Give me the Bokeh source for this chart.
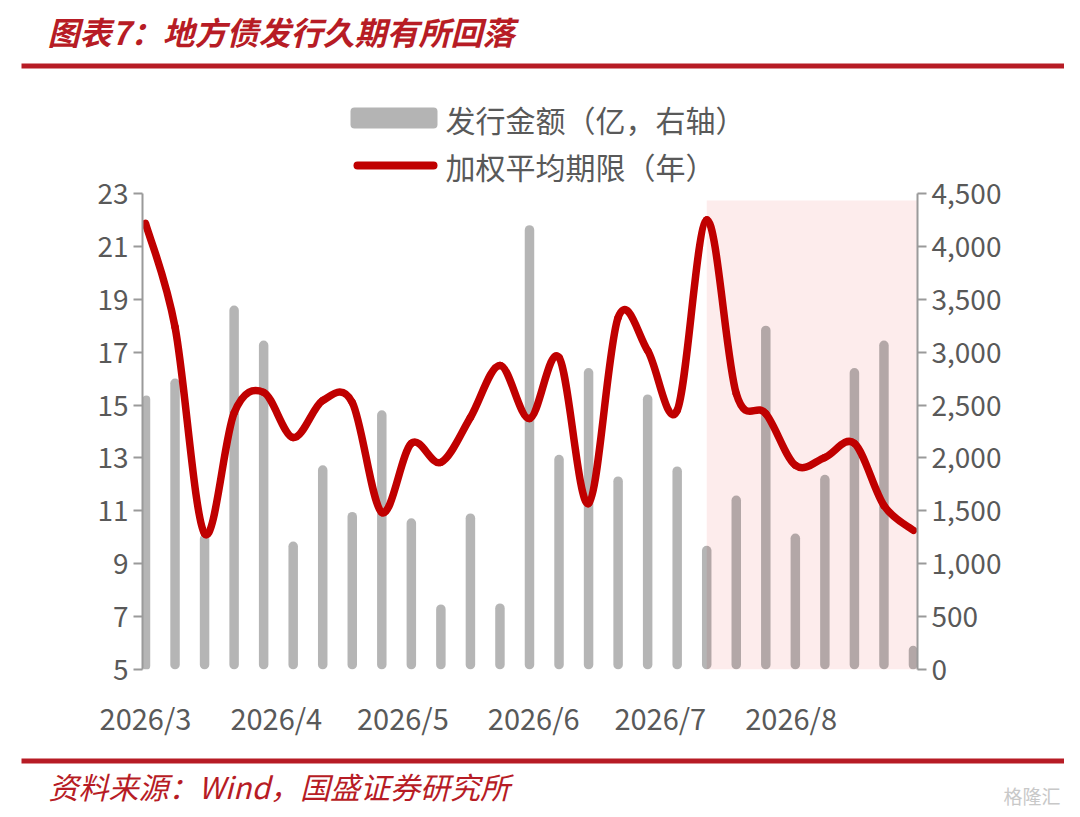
import numpy as np
import pandas as pd
from bokeh.plotting import figure
from bokeh.models import Range1d, LinearAxis, FixedTicker, NumeralTickFormatter, BoxAnnotation
from bokeh.layouts import column, row
from bokeh.core.properties import value
from bokeh.embed import file_html
from bokeh.resources import INLINE

# ---------------- data ----------------
week_dates = ["2026-03-01", "2026-03-08", "2026-03-15", "2026-03-22", "2026-03-29",
              "2026-04-05", "2026-04-12", "2026-04-19", "2026-04-26", "2026-05-03",
              "2026-05-10", "2026-05-17", "2026-05-24", "2026-05-31", "2026-06-07",
              "2026-06-14", "2026-06-21", "2026-06-28", "2026-07-05", "2026-07-12",
              "2026-07-19", "2026-07-26", "2026-08-02", "2026-08-09", "2026-08-16",
              "2026-08-23", "2026-08-30"]
issue_amount = [2590, 2750, 1280, 3440, 3110, 1210, 1930, 1490, 2450, 1430,
                615, 1475, 625, 4200, 2030, 2850, 1825, 2600, 1920, 1170,
                1645, 3250, 1285, 1840, 2850, 3110, 225]
avg_tenor = [21.87, 17.95, 10.14, 14.70, 15.48, 13.77, 15.17, 15.10, 10.94, 13.55,
             12.83, 14.53, 16.50, 14.49, 16.80, 11.28, 18.31, 17.06, 14.80, 22.00,
             15.43, 14.68, 12.72, 13.02, 13.55, 11.20, 10.26]
month_starts = ["2026-03-01", "2026-04-01", "2026-05-01", "2026-06-01", "2026-07-01", "2026-08-01"]
month_labels = ["2026/3", "2026/4", "2026/5", "2026/6", "2026/7", "2026/8"]
left_ticks = [5, 7, 9, 11, 13, 15, 17, 19, 21, 23]
right_ticks = [0, 500, 1000, 1500, 2000, 2500, 3000, 3500, 4000, 4500]
shade_start = "2026-07-12"

title_text = "图表7：地方债发行久期有所回落"
legend_bar = "发行金额（亿，右轴）"
legend_line = "加权平均期限（年）"
source_text = "资料来源：Wind，国盛证券研究所"

FONT = "Noto Sans CJK SC"
RED = "#c00000"
RULE = "#b71c25"
TICK_COL = "#595959"
AXIS_COL = "#9a9a9a"

origin = pd.Timestamp(week_dates[0])
xd = np.array([(pd.Timestamp(d) - origin).days for d in week_dates], dtype=float)
mx = [float((pd.Timestamp(d) - origin).days) for d in month_starts]
shade_x = float((pd.Timestamp(shade_start) - origin).days)

W = 1064

# page-pixel layout of the chart frame
HEADER_H = 88
FRAME_L, FRAME_R = 142, 917
FRAME_T, Y_TOP_TICK, FRAME_B = 95, 193, 669
MAIN_BOTTOM = 745
FOOTER_H = 67

left_lo, left_hi = left_ticks[0], left_ticks[-1]
right_lo, right_hi = right_ticks[0], right_ticks[-1]
stretch = (FRAME_B - FRAME_T) / (FRAME_B - Y_TOP_TICK)


def plain_fig(h):
    f = figure(width=W, height=h, x_range=Range1d(0, W), y_range=Range1d(h, 0),
               output_backend="svg", toolbar_location=None, min_border=0,
               min_border_left=0, min_border_right=0, min_border_top=0, min_border_bottom=0,
               x_axis_location=None, y_axis_location=None, outline_line_color=None)
    f.grid.visible = False
    return f


# ---------------- header: title and rule ----------------
header = plain_fig(HEADER_H)
header.text(x=[47], y=[30], text=[title_text], text_font=value(FONT), text_font_size="32px",
            text_font_style="bold italic", text_color=RULE, text_baseline="middle")
header.segment(x0=[21], y0=[65.5], x1=[1064], y1=[65.5], line_color=RULE, line_width=5)

# ---------------- main chart ----------------
mh = MAIN_BOTTOM - HEADER_H
p = figure(width=W, height=mh,
           x_range=Range1d(-0.71, 182.95),
           y_range=Range1d(left_lo, left_lo + (left_hi - left_lo) * stretch),
           output_backend="svg", toolbar_location=None,
           min_border_left=FRAME_L, min_border_right=W - FRAME_R,
           min_border_top=FRAME_T - HEADER_H, min_border_bottom=MAIN_BOTTOM - FRAME_B,
           outline_line_color=None)
p.grid.visible = False
p.extra_y_ranges = {"amt": Range1d(right_lo, right_lo + (right_hi - right_lo) * stretch),
                    "pyy": Range1d(FRAME_B, FRAME_T)}
p.extra_x_ranges = {"pxx": Range1d(FRAME_L, FRAME_R)}

p.add_layout(BoxAnnotation(left=shade_x, top=22.74, fill_color="#fdecec", fill_alpha=1.0,
                           line_color=None, level="underlay"))

p.vbar(x=xd, top=issue_amount, bottom=0, width=2.25, y_range_name="amt",
       fill_color="black", fill_alpha=0.29, line_color=None, border_radius=5)

# smoothed line through the data points (Catmull-Rom style bezier)
yv = np.array(avg_tenor, dtype=float)
px = np.concatenate([[xd[0]], xd, [xd[-1]]])
py = np.concatenate([[yv[0]], yv, [yv[-1]]])
prev_x, cur_x, nxt_x, nxt2_x = px[:-3], px[1:-2], px[2:-1], px[3:]
prev_y, cur_y, nxt_y, nxt2_y = py[:-3], py[1:-2], py[2:-1], py[3:]
p.bezier(x0=cur_x, y0=cur_y, x1=nxt_x, y1=nxt_y,
         cx0=cur_x + (nxt_x - prev_x) / 6, cy0=cur_y + (nxt_y - prev_y) / 6,
         cx1=nxt_x - (nxt2_x - cur_x) / 6, cy1=nxt_y - (nxt2_y - cur_y) / 6,
         line_color=RED, line_width=7.5, line_cap="round")

# legend (page-pixel placement)
p.quad(left=[350], right=[437], top=[107], bottom=[128], fill_color="#b4b4b4",
       line_color=None, border_radius=4, x_range_name="pxx", y_range_name="pyy")
p.segment(x0=[357], y0=[165], x1=[433], y1=[165], line_color=RED, line_width=8,
          line_cap="round", x_range_name="pxx", y_range_name="pyy")
p.text(x=[445, 445], y=[118, 165], text=[legend_bar, legend_line], text_font=value(FONT),
       text_font_size="30px", text_color=TICK_COL, text_baseline="middle",
       x_range_name="pxx", y_range_name="pyy")

# axes
yl = p.yaxis[0]
yl.ticker = FixedTicker(ticks=left_ticks)
yl.bounds = (left_lo, left_hi)
ry = LinearAxis(y_range_name="amt", ticker=FixedTicker(ticks=right_ticks),
                formatter=NumeralTickFormatter(format="0,0"), bounds=(right_lo, right_hi))
p.add_layout(ry, "right")
for ax in [yl, ry]:
    ax.axis_line_color = AXIS_COL
    ax.axis_line_width = 2
    ax.major_tick_line_color = AXIS_COL
    ax.major_tick_line_width = 2
    ax.major_tick_out = 9
    ax.major_tick_in = 0
    ax.minor_tick_line_color = None
    ax.major_label_text_font = FONT
    ax.major_label_text_font_size = "28px"
    ax.major_label_text_color = TICK_COL
    ax.major_label_standoff = 5

xa = p.xaxis[0]
xa.ticker = FixedTicker(ticks=mx)
xa.major_label_overrides = {m: lab for m, lab in zip(mx, month_labels)}
xa.axis_line_color = None
xa.major_tick_line_color = None
xa.minor_tick_line_color = None
xa.major_label_text_font = FONT
xa.major_label_text_font_size = "29px"
xa.major_label_text_color = TICK_COL
xa.major_label_standoff = 20

# ---------------- footer ----------------
footer = plain_fig(FOOTER_H)
footer.segment(x0=[21], y0=[15.5], x1=[1064], y1=[15.5], line_color=RULE, line_width=5)
footer.text(x=[48], y=[40], text=[source_text], text_font=value(FONT), text_font_size="30px",
            text_font_style="italic", text_color=RULE, text_baseline="middle")
footer.text(x=[1060], y=[50], text=["格隆汇"], text_font=value(FONT), text_font_size="19px",
            text_color="#c8c8c8", text_baseline="middle", text_align="right")

layout = column(row(header), row(p), row(footer), spacing=0)
open("out.html", "w").write(file_html(layout, INLINE))
